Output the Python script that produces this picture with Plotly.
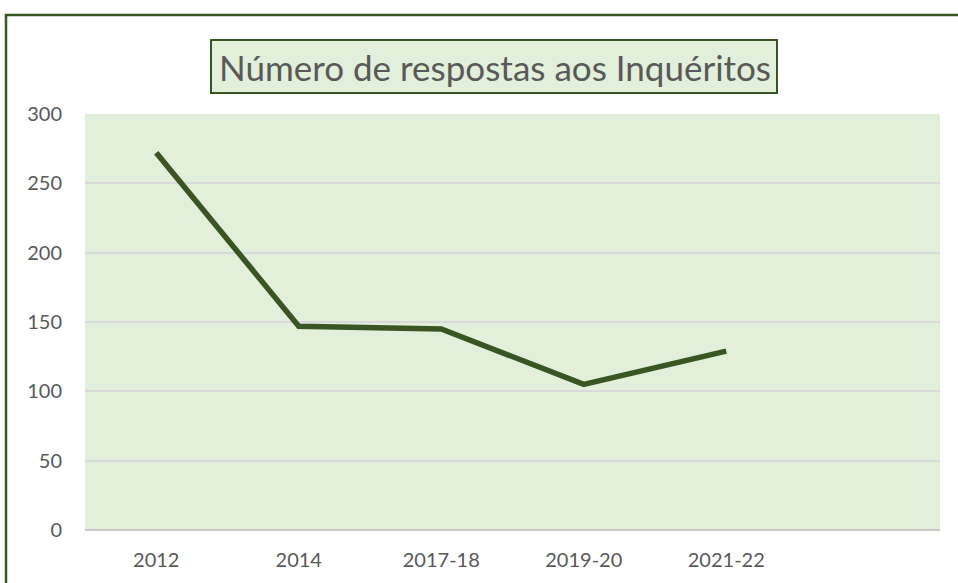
import plotly.graph_objects as go

categories = ["2012", "2014", "2017-18", "2019-20", "2021-22"]
respostas = [272, 147, 145, 105, 129]
y_ticks = [0, 50, 100, 150, 200, 250, 300]
title_text = "Número de respostas aos Inquéritos"

W, H = 958, 583
# plot area in page pixels
PX0, PX1, PY0, PY1 = 85, 940, 114, 530
L, R, T, B = PX0, W - PX1, PY0, H - PY1
pw, ph = PX1 - PX0, PY1 - PY0

def px_x(p):
    return (p - PX0) / pw

def px_y(p):
    return (PY1 - p) / ph

green = "#375623"
bg = "#E2EFDA"
txt = "#595959"
font_fam = "Lato, Open Sans, sans-serif"

fig = go.Figure()
fig.add_trace(go.Scatter(x=categories, y=respostas, mode="lines",
                         line=dict(color=green, width=5.5), hoverinfo="skip"))

fig.update_layout(
    width=W, height=H,
    margin=dict(l=L, r=R, t=T, b=B),
    paper_bgcolor="white",
    plot_bgcolor=bg,
    showlegend=False,
    xaxis=dict(type="category", categoryarray=categories, range=[-0.5, 5.5],
               showgrid=False, zeroline=False, showline=False, ticks="",
               tickfont=dict(family=font_fam, size=20, color=txt),
               ticklabelstandoff=16),
    yaxis=dict(range=[0, 300], tickvals=y_ticks, showgrid=True,
               gridcolor="#D9D9D9", gridwidth=1.5, zeroline=True,
               zerolinecolor="#C8C8C8", zerolinewidth=2, showline=False, ticks="",
               tickfont=dict(family=font_fam, size=20, color=txt),
               ticklabelstandoff=22),
    shapes=[
        dict(type="rect", xref="paper", yref="paper",
             x0=px_x(6), x1=px_x(1020), y0=px_y(640), y1=px_y(15),
             line=dict(color=green, width=2.5), fillcolor="rgba(0,0,0,0)", layer="above"),
        dict(type="rect", xref="paper", yref="paper",
             x0=px_x(211), x1=px_x(777), y0=px_y(93), y1=px_y(40),
             line=dict(color=green, width=2), fillcolor=bg, layer="above"),
    ],
    annotations=[
        dict(text=title_text, xref="paper", yref="paper",
             x=px_x(495), y=px_y(67), xanchor="center", yanchor="middle",
             showarrow=False, font=dict(family="Lato, Open Sans, sans-serif", size=35, color=txt)),
    ],
)

fig.write_html("out.html", config={"displayModeBar": False},
               post_script="document.body.style.margin='0';document.body.style.overflow='hidden';")
